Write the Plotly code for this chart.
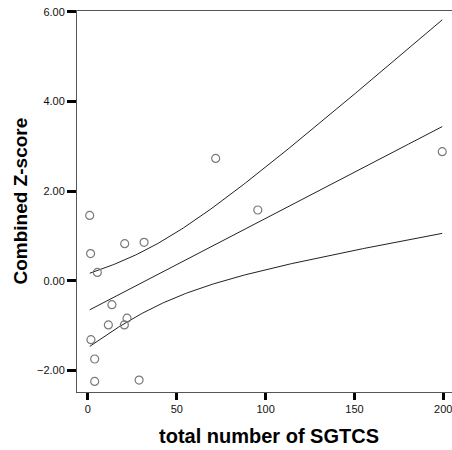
import numpy as np
import plotly.graph_objects as go

# Observations: total number of SGTCS vs combined Z-score
sgtcs = [1.0, 1.5, 5.3, 20.7, 31.6, 71.9, 95.6, 13.5, 11.5, 22.0, 20.5, 1.7, 3.8, 3.8, 28.8, 199.4]
zscore = [1.46, 0.61, 0.19, 0.83, 0.86, 2.73, 1.58, -0.53, -0.98, -0.83, -0.98, -1.31, -1.74, -2.24, -2.21, 2.88]

x_ticks = [0, 50, 100, 150, 200]
y_ticks = [-2.0, 0.0, 2.0, 4.0, 6.0]

# Linear fit with 95% confidence band for the mean
x = np.asarray(sgtcs)
y = np.asarray(zscore)
n = len(x)
slope, intercept = np.polyfit(x, y, 1)
resid = y - (intercept + slope * x)
s = np.sqrt(np.sum(resid ** 2) / (n - 2))
sxx = np.sum((x - x.mean()) ** 2)
t_crit = 2.1448  # t(0.975, df=14)

xs = np.linspace(x.min(), x.max(), 200)
fit = intercept + slope * xs
half = t_crit * s * np.sqrt(1.0 / n + (xs - x.mean()) ** 2 / sxx)

fig = go.Figure()
line_style = dict(color="#222222", width=1)
for ys in (fit + half, fit, fit - half):
    fig.add_trace(go.Scatter(x=xs, y=ys, mode="lines", line=line_style,
                             hoverinfo="skip", showlegend=False))

fig.add_trace(go.Scatter(
    x=sgtcs, y=zscore, mode="markers", showlegend=False,
    marker=dict(symbol="circle-open", size=8, color="#7a7a7a",
                line=dict(color="#7a7a7a", width=1.2)),
))

tick_font = dict(family="Liberation Sans, Arial, sans-serif", size=11, color="#111111")

fig.update_layout(
    width=452, height=450,
    margin=dict(l=77, r=0, t=11, b=58),
    paper_bgcolor="white", plot_bgcolor="white",
    showlegend=False,
    xaxis=dict(
        range=[-6.15, 204.9], tickvals=x_ticks, ticktext=[str(v) for v in x_ticks],
        showgrid=False, zeroline=False,
        showline=True, linecolor="#555555", linewidth=1, mirror=True,
        ticks="outside", ticklen=7, tickwidth=3, tickcolor="#000000",
        tickfont=tick_font, ticklabeloverflow="allow",
    ),
    yaxis=dict(
        range=[-2.476, 6.016], tickvals=y_ticks, tickformat=".2f",
        showgrid=False, zeroline=False,
        showline=True, linecolor="#555555", linewidth=1, mirror=False,
        ticks="outside", ticklen=9, tickwidth=3, tickcolor="#000000",
        tickfont=tick_font, ticklabeloverflow="allow",
    ),
    annotations=[
        dict(text="<b>total number of SGTCS</b>", xref="paper", yref="paper",
             x=0.5117, y=-0.1495, xanchor="center", yanchor="bottom", showarrow=False,
             font=dict(family="Liberation Sans, Arial, sans-serif", size=20, color="#000000")),
        dict(text="<b>Combined Z-score</b>", xref="paper", yref="paper",
             x=-0.152, y=0.5, xanchor="center", yanchor="middle", showarrow=False,
             textangle=-90,
             font=dict(family="Liberation Sans, Arial, sans-serif", size=19, color="#000000")),
    ],
)

fig.write_html("out.html")
